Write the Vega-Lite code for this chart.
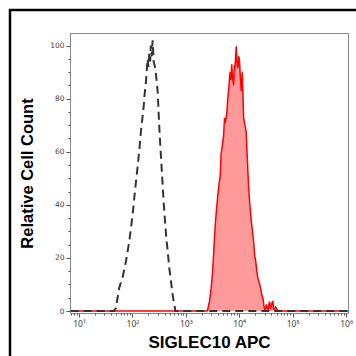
{
  "$schema": "https://vega.github.io/schema/vega-lite/v6.json",
  "width": 352,
  "height": 352,
  "autosize": "none",
  "padding": {"left": 10, "top": 10, "right": 0, "bottom": 0},
  "background": "white",
  "config": {
    "view": {"stroke": "#000000", "strokeWidth": 2.5},
    "axis": {
      "labelFont": "DejaVu Sans",
      "labelFontSize": 7.5,
      "labelColor": "#444444",
      "tickColor": "#555555",
      "domainColor": "#888888",
      "grid": false,
      "titleFont": "Liberation Sans",
      "titleFontWeight": "bold",
      "titleFontSize": 16,
      "titleColor": "#000000"
    }
  },
  "datasets": {
    "sample": [
      {"x": 7, "y": 0}, {"x": 2500, "y": 0}, {"x": 2570, "y": 0.5}, {"x": 2800, "y": 4}, {"x": 2985, "y": 8.6},
      {"x": 3150, "y": 14}, {"x": 3311, "y": 21}, {"x": 3450, "y": 28}, {"x": 3597, "y": 33.7}, {"x": 3750, "y": 38},
      {"x": 3981, "y": 43.8}, {"x": 4200, "y": 48}, {"x": 4416, "y": 51}, {"x": 4571, "y": 59}, {"x": 4800, "y": 62},
      {"x": 5093, "y": 66}, {"x": 5309, "y": 72.7}, {"x": 5500, "y": 71}, {"x": 5888, "y": 75}, {"x": 6100, "y": 80},
      {"x": 6397, "y": 84}, {"x": 6600, "y": 88}, {"x": 6761, "y": 90}, {"x": 7000, "y": 87}, {"x": 7244, "y": 93},
      {"x": 7500, "y": 88}, {"x": 7852, "y": 85}, {"x": 8100, "y": 92}, {"x": 8318, "y": 91.6}, {"x": 8600, "y": 96},
      {"x": 8810, "y": 99.7}, {"x": 9100, "y": 93}, {"x": 9462, "y": 91.6}, {"x": 9800, "y": 96}, {"x": 10162, "y": 94},
      {"x": 10500, "y": 88}, {"x": 10965, "y": 82.8}, {"x": 11429, "y": 90}, {"x": 11800, "y": 80}, {"x": 12106, "y": 72.7},
      {"x": 12800, "y": 70}, {"x": 13490, "y": 67.7}, {"x": 14000, "y": 60}, {"x": 14454, "y": 53.8}, {"x": 15000, "y": 47},
      {"x": 15668, "y": 41}, {"x": 16866, "y": 33.7}, {"x": 17500, "y": 31}, {"x": 18621, "y": 26}, {"x": 19500, "y": 21},
      {"x": 20417, "y": 18.6}, {"x": 21400, "y": 15}, {"x": 22387, "y": 12.3}, {"x": 23500, "y": 11}, {"x": 25119, "y": 8.6},
      {"x": 26500, "y": 6}, {"x": 27861, "y": 4.8}, {"x": 29000, "y": 2}, {"x": 30200, "y": 0.3}, {"x": 31500, "y": 1.5},
      {"x": 32359, "y": 2.5}, {"x": 33500, "y": 1}, {"x": 34674, "y": 0.5}, {"x": 36000, "y": 2.5}, {"x": 37154, "y": 3.5},
      {"x": 38500, "y": 1}, {"x": 39811, "y": 1.5}, {"x": 41200, "y": 3}, {"x": 42658, "y": 3.8}, {"x": 44000, "y": 1},
      {"x": 45709, "y": 0.5}, {"x": 48000, "y": 1.5}, {"x": 50119, "y": 1}, {"x": 53000, "y": 0.3}, {"x": 55000, "y": 0},
      {"x": 1090000, "y": 0}
    ],
    "isotype": [
      {"x": 7, "y": 0}, {"x": 45, "y": 0}, {"x": 49, "y": 1}, {"x": 56.5, "y": 8.7}, {"x": 66, "y": 13},
      {"x": 75.5, "y": 18.6}, {"x": 87, "y": 26}, {"x": 100.5, "y": 36}, {"x": 111.4, "y": 45}, {"x": 124.7, "y": 54},
      {"x": 135, "y": 61}, {"x": 144.5, "y": 67.7}, {"x": 161.8, "y": 76.6}, {"x": 170, "y": 82}, {"x": 179.5, "y": 86.5},
      {"x": 192.3, "y": 95}, {"x": 200, "y": 92}, {"x": 207, "y": 97}, {"x": 215, "y": 94}, {"x": 221, "y": 100},
      {"x": 230, "y": 96}, {"x": 239, "y": 102}, {"x": 250, "y": 94}, {"x": 265, "y": 92}, {"x": 280, "y": 88},
      {"x": 296.5, "y": 83}, {"x": 319, "y": 69}, {"x": 352.5, "y": 54}, {"x": 384.6, "y": 41}, {"x": 426.6, "y": 28.7},
      {"x": 492, "y": 16}, {"x": 567.5, "y": 6}, {"x": 638, "y": 0}, {"x": 1090000, "y": 0}
    ]
  },
  "layer": [
    {
      "data": {"name": "sample"},
      "mark": {"type": "area", "color": "#ff9a9a"},
      "encoding": {
        "x": {
          "field": "x", "type": "quantitative",
          "scale": {"type": "log", "domain": [6.78, 1090000], "range": [60, 338], "nice": false},
          "axis": {
            "orient": "bottom", "offset": -49, "values": [10, 100, 1000, 10000, 100000, 1000000],
            "labelExpr": "datum.value == 10 ? '10¹' : datum.value == 100 ? '10²' : datum.value == 1000 ? '10³' : datum.value == 10000 ? '10⁴' : datum.value == 100000 ? '10⁵' : '10⁶'",
            "labelFont": "Noto Sans", "labelFontSize": 8.5, "tickSize": 4, "labelPadding": 2, "labelFlush": false, "labelOverlap": false,
            "title": "SIGLEC10 APC", "titlePadding": 7, "titleFontSize": 17
          }
        },
        "y": {
          "field": "y", "type": "quantitative",
          "scale": {"domain": [-0.75, 104.75], "range": [303, 23], "nice": false},
          "axis": {
            "orient": "left", "offset": -60, "values": [0, 20, 40, 60, 80, 100],
            "tickSize": 4, "labelPadding": 2, "labelFlush": false,
            "title": "Relative Cell Count", "titlePadding": 14, "titleFontSize": 16.5
          }
        }
      }
    },
    {
      "data": {"name": "sample"},
      "mark": {"type": "line", "color": "#ff0000", "strokeWidth": 1.5},
      "encoding": {
        "x": {
          "field": "x", "type": "quantitative",
          "scale": {"type": "log", "domain": [6.78, 1090000], "range": [60, 338], "nice": false},
          "axis": {
            "orient": "bottom", "offset": -49,
            "values": [7, 8, 9, 20, 30, 40, 50, 60, 70, 80, 90, 200, 300, 400, 500, 600, 700, 800, 900, 2000, 3000, 4000, 5000, 6000, 7000, 8000, 9000, 20000, 30000, 40000, 50000, 60000, 70000, 80000, 90000, 200000, 300000, 400000, 500000, 600000, 700000, 800000, 900000],
            "labels": false, "domain": false, "tickSize": 2, "title": null
          }
        },
        "y": {
          "field": "y", "type": "quantitative",
          "scale": {"domain": [-0.75, 104.75], "range": [303, 23], "nice": false},
          "axis": {
            "orient": "left", "offset": -60,
            "values": [5, 10, 15, 25, 30, 35, 45, 50, 55, 65, 70, 75, 85, 90, 95],
            "labels": false, "domain": false, "tickSize": 2, "title": null
          }
        }
      }
    },
    {
      "data": {"name": "isotype"},
      "mark": {"type": "line", "color": "#333333", "strokeWidth": 2, "strokeDash": [8, 5]},
      "encoding": {
        "x": {
          "field": "x", "type": "quantitative",
          "scale": {"type": "log", "domain": [6.78, 1090000], "range": [60, 338], "nice": false},
          "axis": {"orient": "top", "offset": -23, "labels": false, "ticks": false, "title": null, "domain": true}
        },
        "y": {
          "field": "y", "type": "quantitative",
          "scale": {"domain": [-0.75, 104.75], "range": [303, 23], "nice": false},
          "axis": {"orient": "right", "offset": -14, "labels": false, "ticks": false, "title": null, "domain": true}
        }
      }
    }
  ],
  "resolve": {"axis": {"x": "independent", "y": "independent"}}
}
